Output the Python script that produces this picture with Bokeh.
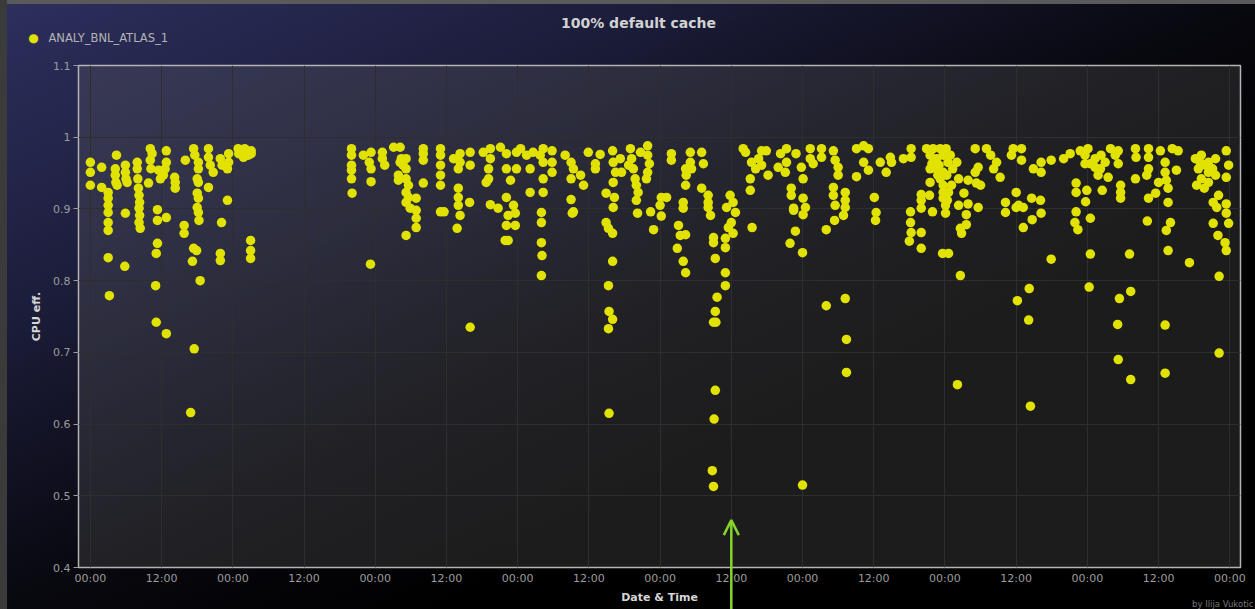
from bokeh.plotting import figure
from bokeh.models import (FixedTicker, Label, Arrow, OpenHead, Range1d,
                          ColumnDataSource, GlobalInlineStyleSheet)
from bokeh.embed import file_html
from bokeh.resources import INLINE

TITLE = "100% default cache"
SERIES = "ANALY_BNL_ATLAS_1"
X_LABEL = "Date & Time"
Y_LABEL = "CPU eff."
CREDIT = "by Ilija Vukotic"

# hours since the first 00:00 tick
x_ticks = [0, 12, 24, 36, 48, 60, 72, 84, 96, 108, 120, 132, 144, 156, 168, 180, 192]
x_tick_labels = ["00:00", "12:00", "00:00", "12:00", "00:00", "12:00", "00:00", "12:00", "00:00",
                 "12:00", "00:00", "12:00", "00:00", "12:00", "00:00", "12:00", "00:00"]
y_ticks = [0.4, 0.5, 0.6, 0.7, 0.8, 0.9, 1.0, 1.1]
y_tick_labels = ["0.4", "0.5", "0.6", "0.7", "0.8", "0.9", "1", "1.1"]

# green arrow pointing at the 12:00 tick of day 5
arrow_hour = 108
arrow_tip_eff = 0.466

# (hour, CPU efficiency), grouped by day
day1 = [(0.0, 0.965), (0.0, 0.951), (0.0, 0.933), (1.9, 0.958), (1.9, 0.930),
        (3.0, 0.923), (3.0, 0.915), (3.0, 0.905), (3.0, 0.895), (3.0, 0.881), (3.0, 0.870), (3.0, 0.832), (3.2, 0.779),
        (4.4, 0.975), (4.2, 0.956), (4.2, 0.947), (4.3, 0.937), (4.5, 0.933),
        (5.9, 0.961), (5.9, 0.951), (6.0, 0.942), (6.2, 0.937), (5.9, 0.894), (5.8, 0.820),
        (7.9, 0.965), (7.9, 0.956), (8.0, 0.942), (8.1, 0.929), (8.2, 0.919), (8.3, 0.909), (8.2, 0.901),
        (8.3, 0.891), (8.2, 0.881), (8.4, 0.873), (9.8, 0.936),
        (10.1, 0.984), (10.4, 0.977), (10.1, 0.968), (10.2, 0.956), (11.5, 0.954), (11.8, 0.942),
        (11.3, 0.899), (11.3, 0.884), (12.8, 0.888), (11.3, 0.852), (11.1, 0.838), (11.0, 0.793), (11.1, 0.742),
        (12.8, 0.726), (12.8, 0.981), (12.8, 0.965), (12.6, 0.956), (12.3, 0.947),
        (14.2, 0.944), (14.3, 0.937), (14.3, 0.929), (16.0, 0.968), (15.8, 0.877), (15.8, 0.866),
        (17.4, 0.984), (17.6, 0.975), (17.4, 0.845), (17.9, 0.842), (17.2, 0.827), (18.5, 0.800), (17.5, 0.705),
        (16.9, 0.616), (18.2, 0.965), (18.2, 0.956), (18.0, 0.942), (18.2, 0.937), (18.0, 0.922), (18.2, 0.915),
        (18.0, 0.902), (18.2, 0.895), (18.3, 0.884),
        (19.9, 0.984), (19.9, 0.972), (20.2, 0.961), (20.7, 0.951), (19.9, 0.930),
        (21.9, 0.970), (22.2, 0.961), (23.3, 0.977), (23.3, 0.965), (23.1, 0.956), (23.1, 0.912),
        (22.1, 0.881), (21.9, 0.838), (21.9, 0.828)]
day2 = [(24.9, 0.984), (26.1, 0.981), (27.1, 0.981), (25.8, 0.972), (26.6, 0.975), (27.1, 0.977), (25.0, 0.977),
        (26.0, 0.984), (27.0, 0.856), (27.0, 0.842), (27.0, 0.831),
        (44.0, 0.984), (44.0, 0.975), (44.0, 0.961), (44.0, 0.954), (44.0, 0.942), (44.1, 0.922),
        (46.0, 0.975), (47.3, 0.979), (47.0, 0.965), (47.3, 0.956), (47.3, 0.938), (47.2, 0.823)]
day3 = [(49.2, 0.979), (49.2, 0.970), (49.6, 0.961),
        (51.1, 0.986), (52.2, 0.986), (52.4, 0.970), (52.2, 0.965), (52.7, 0.961), (53.2, 0.970), (53.2, 0.956),
        (51.9, 0.947), (51.9, 0.940), (53.2, 0.942), (53.6, 0.933), (53.2, 0.923), (53.6, 0.916), (53.2, 0.909),
        (53.9, 0.901), (54.9, 0.915), (54.9, 0.898), (54.9, 0.887), (54.9, 0.874), (53.2, 0.863),
        (56.1, 0.984), (56.1, 0.977), (56.1, 0.968), (56.1, 0.936),
        (59.0, 0.984), (59.0, 0.975), (59.0, 0.961), (59.0, 0.947), (59.0, 0.933), (59.0, 0.896), (59.6, 0.896),
        (61.2, 0.970), (62.3, 0.977), (62.3, 0.965), (62.0, 0.956), (64.0, 0.979), (64.0, 0.961),
        (62.0, 0.929), (62.0, 0.916), (62.0, 0.905), (62.3, 0.891), (61.8, 0.873), (63.9, 0.909), (64.0, 0.735),
        (66.2, 0.979), (67.4, 0.984), (67.4, 0.970), (67.1, 0.956), (67.1, 0.942), (66.7, 0.937), (67.4, 0.906),
        (68.7, 0.901), (69.1, 0.986), (70.1, 0.977), (70.1, 0.956), (70.8, 0.940),
        (70.1, 0.916), (71.3, 0.905), (70.4, 0.891), (71.6, 0.894), (70.1, 0.877), (71.6, 0.877), (69.9, 0.856),
        (70.4, 0.856), (71.8, 0.979), (71.8, 0.956)]
day4 = [(72.5, 0.984), (73.5, 0.975), (74.1, 0.956), (74.6, 0.979), (75.8, 0.975), (76.3, 0.984), (76.3, 0.965),
        (74.1, 0.923), (76.3, 0.942), (76.3, 0.923),
        (76.0, 0.895), (76.0, 0.881), (76.0, 0.853), (76.1, 0.835), (76.0, 0.807),
        (77.8, 0.981), (77.8, 0.965), (77.8, 0.951), (80.0, 0.975),
        (81.0, 0.965), (81.4, 0.956), (81.0, 0.942), (82.6, 0.947), (83.1, 0.933), (81.0, 0.913), (81.2, 0.894),
        (81.4, 0.896), (83.9, 0.979), (85.9, 0.976), (85.1, 0.963), (85.1, 0.956),
        (88.0, 0.981), (88.1, 0.965), (89.3, 0.970), (88.5, 0.951), (89.5, 0.951), (88.1, 0.937),
        (86.9, 0.922), (88.3, 0.916), (88.1, 0.902), (86.9, 0.881), (87.3, 0.873), (88.0, 0.866), (88.0, 0.827),
        (87.3, 0.793), (87.4, 0.757), (88.0, 0.746), (87.3, 0.733), (87.4, 0.615),
        (91.0, 0.984), (91.2, 0.970), (90.7, 0.961), (91.5, 0.956), (91.8, 0.942), (92.0, 0.933), (92.3, 0.923),
        (92.0, 0.912), (92.2, 0.894), (92.7, 0.979), (93.9, 0.988), (93.9, 0.975), (94.2, 0.963), (93.9, 0.951),
        (93.7, 0.942), (94.4, 0.896), (94.9, 0.871)]
day5 = [(96.2, 0.916), (97.1, 0.916), (96.0, 0.905), (96.2, 0.890), (97.9, 0.977), (97.9, 0.968),
        (100.3, 0.956), (100.4, 0.947), (100.3, 0.933), (101.1, 0.979), (101.1, 0.965), (101.3, 0.956),
        (103.0, 0.979), (103.3, 0.963),
        (99.9, 0.909), (99.9, 0.901), (99.1, 0.877), (99.4, 0.863), (100.3, 0.864), (98.9, 0.845), (99.9, 0.827),
        (100.3, 0.811), (103.0, 0.929), (104.1, 0.919), (104.1, 0.909), (104.1, 0.902), (104.5, 0.891),
        (105.0, 0.860), (105.0, 0.853), (105.3, 0.831), (107.0, 0.859), (107.0, 0.846), (107.0, 0.811),
        (107.0, 0.793), (105.6, 0.777), (105.3, 0.757), (105.0, 0.742), (105.4, 0.742), (105.3, 0.647),
        (105.1, 0.607), (104.8, 0.535), (105.0, 0.513),
        (107.2, 0.902), (107.8, 0.919), (108.3, 0.909), (108.7, 0.895), (108.0, 0.881), (107.5, 0.874),
        (108.3, 0.866), (110.0, 0.984), (110.4, 0.979), (111.4, 0.965), (112.1, 0.956), (111.2, 0.942),
        (111.2, 0.926), (111.5, 0.874), (113.1, 0.981), (113.9, 0.981), (112.6, 0.970), (113.1, 0.961),
        (114.2, 0.947), (116.3, 0.977), (115.9, 0.958), (117.3, 0.984), (117.3, 0.965), (117.1, 0.951),
        (118.1, 0.929), (118.1, 0.919), (118.5, 0.901), (118.5, 0.898), (118.8, 0.869), (117.9, 0.852),
        (120.0, 0.839), (120.0, 0.515), (118.9, 0.977), (119.8, 0.958)]
day6 = [(120.1, 0.942), (120.1, 0.915), (120.5, 0.902), (120.1, 0.892),
        (121.3, 0.984), (121.3, 0.970), (121.8, 0.963), (123.2, 0.984), (123.2, 0.972),
        (124.0, 0.765), (127.2, 0.775), (127.4, 0.718), (127.4, 0.672),
        (125.2, 0.981), (125.5, 0.968), (126.0, 0.958), (126.0, 0.947),
        (125.2, 0.930), (125.2, 0.919), (125.5, 0.905), (125.4, 0.884), (124.0, 0.871),
        (127.2, 0.923), (127.2, 0.912), (127.2, 0.902), (126.9, 0.891),
        (129.1, 0.984), (130.3, 0.988), (131.1, 0.984), (130.3, 0.965), (131.1, 0.954), (129.1, 0.945),
        (132.1, 0.916), (132.4, 0.895), (132.3, 0.884),
        (133.1, 0.965), (134.8, 0.972), (135.0, 0.965), (134.1, 0.951), (137.0, 0.970),
        (138.3, 0.984), (138.3, 0.972), (138.2, 0.896), (138.2, 0.881), (138.3, 0.867), (138.0, 0.855),
        (140.0, 0.867), (140.0, 0.845), (140.0, 0.920), (140.0, 0.912), (140.0, 0.901), (141.4, 0.919),
        (141.5, 0.937), (141.9, 0.896),
        (140.9, 0.984), (142.0, 0.984), (143.2, 0.984), (141.5, 0.975), (142.6, 0.970), (143.7, 0.975),
        (141.5, 0.956), (142.6, 0.956), (143.7, 0.951), (143.2, 0.942), (143.7, 0.933), (143.7, 0.923),
        (143.7, 0.915), (142.5, 0.965), (143.0, 0.961), (141.8, 0.963), (142.8, 0.947), (143.6, 0.838)]
day7 = [(144.2, 0.984), (144.9, 0.975), (146.0, 0.965), (144.1, 0.905), (144.1, 0.894), (145.1, 0.933),
        (146.3, 0.942), (144.6, 0.838), (146.6, 0.807), (146.1, 0.655),
        (144.5, 0.965), (145.3, 0.956), (144.3, 0.947), (144.6, 0.923), (144.4, 0.912),
        (147.9, 0.940), (149.3, 0.936), (150.0, 0.933), (149.1, 0.951), (149.6, 0.958),
        (147.2, 0.922), (146.3, 0.905), (147.9, 0.907), (149.6, 0.902), (147.6, 0.892), (147.6, 0.878),
        (146.6, 0.873), (146.8, 0.866),
        (149.1, 0.984), (151.0, 0.984), (151.7, 0.975), (152.7, 0.965), (152.2, 0.956), (153.3, 0.944),
        (155.5, 0.984), (155.2, 0.975), (154.2, 0.909), (154.2, 0.895), (156.0, 0.923), (156.0, 0.902),
        (156.2, 0.772), (156.9, 0.984), (156.9, 0.968),
        (156.4, 0.905), (157.2, 0.902), (158.6, 0.915), (160.1, 0.912), (160.2, 0.894), (158.7, 0.885),
        (157.2, 0.874), (158.9, 0.956), (160.2, 0.965), (160.2, 0.951), (161.9, 0.968),
        (161.9, 0.830), (158.2, 0.789), (158.1, 0.745), (158.4, 0.625),
        (164.0, 0.970), (165.1, 0.977), (166.8, 0.981), (167.6, 0.975), (166.1, 0.936), (166.1, 0.923),
        (167.9, 0.926), (167.7, 0.910), (166.1, 0.896), (165.9, 0.881), (166.4, 0.871), (167.6, 0.963)]
day8 = [(168.1, 0.984), (169.3, 0.970), (170.2, 0.956), (171.0, 0.965), (171.9, 0.984), (172.7, 0.975),
        (173.2, 0.981), (169.8, 0.947), (171.5, 0.944), (173.2, 0.963), (168.5, 0.963), (169.3, 0.958),
        (170.3, 0.975), (168.5, 0.887), (170.5, 0.926),
        (168.5, 0.837), (168.3, 0.791), (175.1, 0.837), (175.3, 0.785), (173.4, 0.775), (173.1, 0.739),
        (173.2, 0.690), (175.3, 0.662), (173.6, 0.933), (173.6, 0.923), (173.6, 0.915),
        (176.1, 0.984), (176.2, 0.972), (178.3, 0.984), (178.3, 0.972), (178.3, 0.956), (178.0, 0.947),
        (176.1, 0.942), (178.3, 0.915), (179.5, 0.922), (180.0, 0.937), (178.1, 0.883),
        (180.3, 0.981), (181.1, 0.965), (181.1, 0.951), (181.3, 0.940), (181.6, 0.929), (181.6, 0.909),
        (182.0, 0.881), (181.3, 0.870), (181.6, 0.842), (181.1, 0.738), (181.1, 0.671),
        (182.3, 0.984), (183.3, 0.981), (183.0, 0.954), (185.2, 0.825),
        (186.2, 0.970), (187.2, 0.975), (188.4, 0.965), (189.6, 0.970), (186.7, 0.956), (188.4, 0.951),
        (189.6, 0.947), (187.2, 0.942), (188.4, 0.937), (187.7, 0.929), (186.4, 0.933), (187.9, 0.961),
        (189.1, 0.956), (187.0, 0.965),
        (190.1, 0.919), (189.2, 0.909), (189.8, 0.902), (191.4, 0.907), (191.4, 0.894), (191.8, 0.880),
        (189.2, 0.880), (190.0, 0.863), (191.2, 0.853), (191.4, 0.842),
        (191.4, 0.981), (191.8, 0.961), (191.4, 0.944), (190.2, 0.806), (190.2, 0.699)]

samples = day1 + day2 + day3 + day4 + day5 + day6 + day7 + day8
src = ColumnDataSource(data=dict(hour=[s[0] for s in samples], eff=[s[1] for s in samples]))

# ---- layout (page pixels) ----
W, H = 1255, 609
FL, FR, FT, FB = 78, 1240, 65, 567
X0, X1 = -2.0, 193.8
Y0, Y1 = 0.4, 1.1
FONT = "DejaVu Sans"
YELLOW = "#e2e200"
GREEN = "#84d62a"

p = figure(width=W, height=H, x_range=Range1d(X0, X1), y_range=Range1d(Y0, Y1),
           output_backend="svg", toolbar_location=None,
           min_border_left=FL, min_border_right=W - FR, min_border_top=FT, min_border_bottom=H - FB)

p.border_fill_color = None
p.background_fill_color = "#616161"
p.background_fill_alpha = 0.29
p.outline_line_color = "#b4b4b4"
p.outline_line_width = 1.5
p.styles = {"background": ("linear-gradient(to right, #3b3b3b 0px, #3b3b3b 7px, transparent 7px), "
                           "linear-gradient(to bottom, #5a5a5a 0px, #5a5a5a 4px, transparent 4px), "
                           "linear-gradient(to bottom right, #2d2f5e 0%, #1d1e3c 25%, #08080f 50%, #000000 68%)")}
p.stylesheets = [GlobalInlineStyleSheet(css="html, body { background: #000000; }")]

xa = p.xaxis[0]
xa.ticker = FixedTicker(ticks=x_ticks)
xa.major_label_overrides = dict(zip(x_ticks, x_tick_labels))
xa.axis_line_color = None
xa.major_tick_out = 0
xa.major_tick_in = 0
xa.minor_tick_out = 0
xa.minor_tick_in = 0
xa.major_label_standoff = 4
xa.major_label_text_color = "#9c9c9c"
xa.major_label_text_font = FONT
xa.major_label_text_font_size = "11px"
xa.axis_label = X_LABEL
xa.axis_label_text_font = FONT
xa.axis_label_text_font_style = "bold"
xa.axis_label_text_font_size = "11px"
xa.axis_label_text_color = "#d6d6d6"
xa.axis_label_standoff = 3

ya = p.yaxis[0]
ya.ticker = FixedTicker(ticks=y_ticks)
ya.major_label_overrides = dict(zip(y_ticks, y_tick_labels))
ya.axis_line_color = None
ya.major_tick_out = 5
ya.major_tick_in = 0
ya.minor_tick_out = 0
ya.minor_tick_in = 0
ya.major_tick_line_color = "#9c9c9c"
ya.major_label_standoff = 3
ya.major_label_text_color = "#9c9c9c"
ya.major_label_text_font = FONT
ya.major_label_text_font_size = "11px"
ya.axis_label = Y_LABEL
ya.axis_label_text_font = FONT
ya.axis_label_text_font_style = "bold"
ya.axis_label_text_font_size = "11px"
ya.axis_label_text_color = "#d6d6d6"
ya.axis_label_standoff = 7

p.xgrid.ticker = FixedTicker(ticks=x_ticks)
p.ygrid.ticker = FixedTicker(ticks=y_ticks)
for g in (p.xgrid, p.ygrid):
    g.grid_line_color = "#2e2e30"
    g.grid_line_width = 1

p.scatter(x="hour", y="eff", source=src, size=9.5, fill_color=YELLOW, line_color=None)

# ---- transparent overlay (page pixels) for the texts and arrow outside the plot frame ----
ov = figure(width=W, height=H, x_range=Range1d(0, W), y_range=Range1d(H, 0),
            output_backend="svg", toolbar_location=None,
            x_axis_location=None, y_axis_location=None, min_border=0)
ov.border_fill_color = None
ov.background_fill_color = None
ov.outline_line_color = None
ov.grid.visible = False
ov.styles = {"position": "absolute", "left": "0px", "top": "0px", "pointer-events": "none"}


def sx(hour):
    return FL + (hour - X0) / (X1 - X0) * (FR - FL)


def sy(eff):
    return FT + (Y1 - eff) / (Y1 - Y0) * (FB - FT)


ov.add_layout(Label(x=638, y=22, text=TITLE, text_align="center", text_baseline="middle",
                    text_font=FONT, text_font_style="bold", text_font_size="14px", text_color="#d2d2d2"))
ov.add_layout(Label(x=33, y=37, text="\u25cf", text_align="center", text_baseline="middle",
                    text_font=FONT, text_font_size="12px", text_color=YELLOW))
ov.add_layout(Label(x=48, y=37, text=SERIES, text_align="left", text_baseline="middle",
                    text_font=FONT, text_font_size="11.5px", text_color="#b4b4b4"))
ov.add_layout(Label(x=1253, y=603, text=CREDIT, text_align="right", text_baseline="middle",
                    text_font=FONT, text_font_size="8.5px", text_color="#777777"))
ov.add_layout(Arrow(end=OpenHead(size=15, line_color=GREEN, line_width=2.5),
                    x_start=sx(arrow_hour), y_start=H, x_end=sx(arrow_hour), y_end=sy(arrow_tip_eff),
                    line_color=GREEN, line_width=2.5))

open("out.html", "w").write(file_html([p, ov], INLINE))
